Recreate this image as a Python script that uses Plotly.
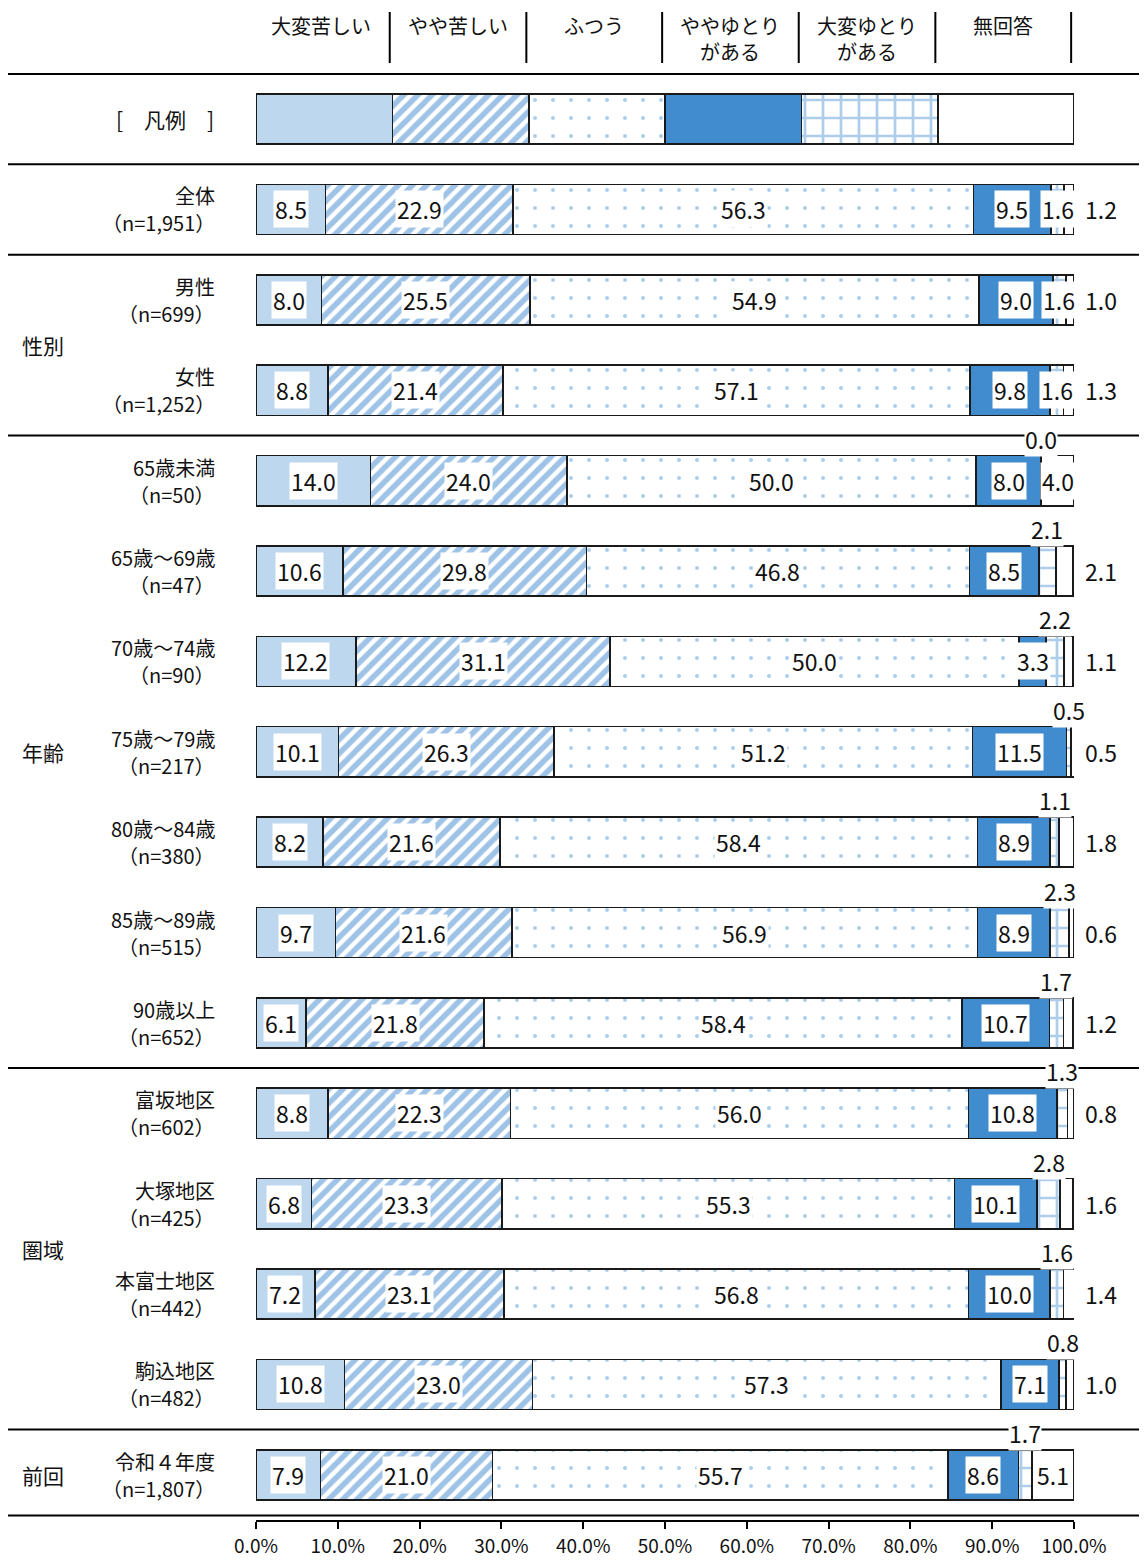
import plotly.graph_objects as go

FONT = "Noto Sans CJK JP"

categories = ["大変苦しい", "やや苦しい", "ふつう", "ややゆとり<br>がある", "大変ゆとり<br>がある", "無回答"]

row_names = ["全体", "男性", "女性", "65歳未満", "65歳～69歳", "70歳～74歳", "75歳～79歳",
             "80歳～84歳", "85歳～89歳", "90歳以上", "富坂地区", "大塚地区", "本富士地区",
             "駒込地区", "令和４年度"]
row_n = ["（n=1,951）", "（n=699）", "（n=1,252）", "（n=50）", "（n=47）", "（n=90）", "（n=217）",
         "（n=380）", "（n=515）", "（n=652）", "（n=602）", "（n=425）", "（n=442）",
         "（n=482）", "（n=1,807）"]

very_hard = [8.5, 8.0, 8.8, 14.0, 10.6, 12.2, 10.1, 8.2, 9.7, 6.1, 8.8, 6.8, 7.2, 10.8, 7.9]
some_hard = [22.9, 25.5, 21.4, 24.0, 29.8, 31.1, 26.3, 21.6, 21.6, 21.8, 22.3, 23.3, 23.1, 23.0, 21.0]
normal = [56.3, 54.9, 57.1, 50.0, 46.8, 50.0, 51.2, 58.4, 56.9, 58.4, 56.0, 55.3, 56.8, 57.3, 55.7]
some_room = [9.5, 9.0, 9.8, 8.0, 8.5, 3.3, 11.5, 8.9, 8.9, 10.7, 10.8, 10.1, 10.0, 7.1, 8.6]
much_room = [1.6, 1.6, 1.6, 0.0, 2.1, 2.2, 0.5, 1.1, 2.3, 1.7, 1.3, 2.8, 1.6, 0.8, 1.7]
no_answer = [1.2, 1.0, 1.3, 4.0, 2.1, 1.1, 0.5, 1.8, 0.6, 1.2, 0.8, 1.6, 1.4, 1.0, 5.1]

legend_widths = [16.7, 16.7, 16.6, 16.7, 16.7, 16.6]

groups = [("性別", 2.5), ("年齢", 7), ("圏域", 12.5), ("前回", 15)]
separators = [-0.5, 0.5, 1.5, 3.5, 10.5, 14.5, 15.45]

series = [very_hard, some_hard, normal, some_room, much_room, no_answer]

styles = [
    dict(color="#BDD7EE"),
    dict(color="white", pattern=dict(shape="/", fgcolor="#4088D0", bgcolor="white",
                                     size=10, solidity=0.55)),
    dict(color="white", pattern=dict(shape=".", fgcolor="#5B9BD5", bgcolor="white",
                                     size=18, solidity=0.04)),
    dict(color="#418BCF"),
    dict(color="white", pattern=dict(shape="+", fgcolor="#5B9BD5", bgcolor="white",
                                     size=18, solidity=0.28)),
    dict(color="white"),
]

# the page body has an 8px margin, so the figure starts at (8, 8) on screen
OFF = 8
Y_TOP, Y_BOT = -0.51, 15.5
PLOT_T, PLOT_B = 73, 1520  # screen pixels


def ypaper_k(k):
    return (Y_BOT - k) / (Y_BOT - Y_TOP)


def ypaper_px(px):
    return (PLOT_B - px) / (PLOT_B - PLOT_T)


def xpaper_px(px):
    return (px - 256) / 818


fig = go.Figure()
rows_y = list(range(1, len(row_names) + 1))

for i, (vals, st) in enumerate(zip(series, styles)):
    fig.add_bar(
        x=[legend_widths[i]] + vals,
        y=[0] + rows_y,
        orientation="h",
        width=0.555,
        marker=dict(line=dict(color="#1a1a1a", width=1.6), **st),
        name=categories[i].replace("<br>", ""),
        showlegend=False,
        hoverinfo="skip",
    )

fig.update_layout(barmode="stack")

ann = []
lab_font = dict(family=FONT, size=20, color="#111111")
val_font = dict(family=FONT, size=23, color="#111111")


def value_label(x, y, txt, **kw):
    d = dict(x=x, y=y, text=txt, showarrow=False, bgcolor="white", borderpad=1, font=val_font)
    d.update(kw)
    return d


# value labels
for r, y in enumerate(rows_y):
    start = 0
    for c, vals in enumerate(series):
        v = vals[r]
        txt = f"{v:.1f}"
        mid = start + v / 2
        if c <= 3:
            ann.append(value_label(mid, y, txt))
        elif c == 4:
            if r <= 2:
                ann.append(value_label(mid, y, txt))
            else:
                ann.append(value_label(mid, y, txt, yshift=42, borderpad=0))
        else:
            if v >= 4.0:
                ann.append(value_label(mid, y, txt))
            else:
                ann.append(dict(x=100, y=y, xanchor="left", xshift=9, text=txt,
                                showarrow=False, font=val_font))
        start += v

# row labels (name on top, sample size below)
for name, n, y in zip(row_names, row_n, rows_y):
    ann.append(dict(xref="paper", x=xpaper_px(216), y=y, yshift=13.5, xanchor="right",
                    yanchor="middle", text=name, showarrow=False, font=lab_font, borderpad=0))
    ann.append(dict(xref="paper", x=xpaper_px(216), y=y, yshift=-13.5, xanchor="right",
                    yanchor="middle", text=n, showarrow=False, font=lab_font, borderpad=0))
ann.append(dict(xref="paper", x=xpaper_px(216), y=0, xanchor="right", align="right",
                text="[　凡例　]", showarrow=False, font=dict(family=FONT, size=21)))

for g, y in groups:
    ann.append(dict(xref="paper", x=xpaper_px(20), y=y, xanchor="left", text=g,
                    showarrow=False, font=dict(family=FONT, size=21)))

# header
shapes = []
cum = 0
bounds = [0]
for w in legend_widths:
    cum += w
    bounds.append(cum)
for b in bounds:
    shapes.append(dict(type="line", xref="x", yref="paper", x0=b - 0.35, x1=b - 0.35,
                       y0=ypaper_px(12), y1=ypaper_px(63),
                       line=dict(color="black", width=2)))
for i, cat in enumerate(categories):
    xc = (bounds[i] + bounds[i + 1]) / 2 - 0.35
    for j, line in enumerate(cat.split("<br>")):
        ann.append(dict(x=xc, yref="paper", y=ypaper_px(25 + 26 * j), yanchor="middle",
                        text=line, showarrow=False, borderpad=0,
                        font=dict(family=FONT, size=20, color="#111111")))

for s in separators:
    shapes.append(dict(type="line", xref="paper", yref="paper", x0=xpaper_px(8),
                       x1=xpaper_px(1147), y0=ypaper_k(s), y1=ypaper_k(s),
                       line=dict(color="black", width=2), layer="below"))

ticks = [0, 10, 20, 30, 40, 50, 60, 70, 80, 90, 100]
fig.update_layout(
    width=1147 - OFF, height=1560 - OFF,
    margin=dict(l=256 - OFF, r=73, t=PLOT_T - OFF, b=1560 - PLOT_B),
    plot_bgcolor="white", paper_bgcolor="white",
    annotations=ann, shapes=shapes,
    font=dict(family=FONT, color="#111111"),
)
fig.update_xaxes(range=[0, 100], showgrid=False, zeroline=False, showline=True,
                 linecolor="black", linewidth=1.5, ticks="outside", ticklen=7,
                 tickwidth=1.5, tickcolor="black", tickvals=ticks,
                 ticktext=[f"{t:.1f}%" for t in ticks], ticklabelstandoff=1,
                 tickfont=dict(family=FONT, size=19, color="#111111"), fixedrange=True,
                 automargin=False)
fig.update_yaxes(range=[Y_BOT, Y_TOP], showgrid=False, zeroline=False,
                 showticklabels=False, fixedrange=True, automargin=False)

fig.write_html("out.html")
